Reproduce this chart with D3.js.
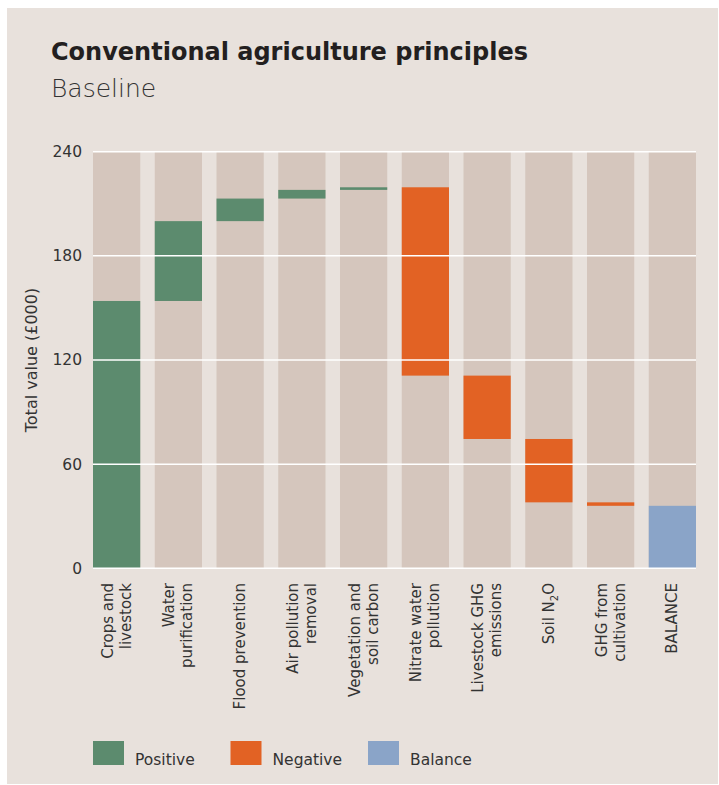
<!DOCTYPE html>
<html>
<head>
<meta charset="utf-8">
<script src="https://cdn.jsdelivr.net/npm/d3@7"></script>
<style>
  body { margin: 0; background: #fff; }
  svg { display: block; }
  text { font-family: "DejaVu Sans", sans-serif; fill: #333; }
</style>
</head>
<body>
<div id="chart"></div>
<script>
// categories (two lines each for the rotated labels)
var categories = [
  ["Crops and", "livestock"],
  ["Water", "purification"],
  ["Flood prevention"],
  ["Air pollution", "removal"],
  ["Vegetation and", "soil carbon"],
  ["Nitrate water", "pollution"],
  ["Livestock GHG", "emissions"],
  ["Soil N2O"],
  ["GHG from", "cultivation"],
  ["BALANCE"]
];
// change in value per category (£000), balance is the running total
var changes = [154, 46, 13, 5, 1.5, -108.5, -36.5, -36.5, -2];
var yTicks = [0, 60, 120, 180, 240];
var legendItems = ["Positive", "Negative", "Balance"];

var colors = { Positive: "#5c8b6e", Negative: "#e26224", Balance: "#8aa4c8" };

var width = 719, height = 785;
var svg = d3.select("#chart").append("svg")
    .attr("width", width)
    .attr("height", height);

// panel
svg.append("rect")
    .attr("x", 7).attr("y", 8)
    .attr("width", 711).attr("height", 776)
    .attr("fill", "#e8e1dc");

svg.append("text")
    .attr("x", 51).attr("y", 60)
    .style("font-size", "24px")
    .style("font-weight", "bold")
    .style("fill", "#231f20")
    .text("Conventional agriculture principles");

svg.append("text")
    .attr("x", 51).attr("y", 97)
    .style("font-size", "25px")
    .style("font-weight", "200")
    .style("fill", "#333")
    .text("Baseline");

// build waterfall segments
var data = [];
var running = 0;
changes.forEach(function(c, i) {
  var start = running;
  running += c;
  data.push({ key: i, lo: Math.min(start, running), hi: Math.max(start, running),
              type: c >= 0 ? "Positive" : "Negative" });
});
data.push({ key: changes.length, lo: 0, hi: running, type: "Balance" });

var x = d3.scaleBand()
    .domain(d3.range(categories.length))
    .range([93, 696])
    .paddingInner(0.235)
    .paddingOuter(0);

var y = d3.scaleLinear()
    .domain([0, 240])
    .range([568.3, 151.7]);

// background bars
svg.append("g").selectAll("rect")
    .data(categories)
    .enter().append("rect")
    .attr("x", function(d, i) { return x(i); })
    .attr("width", x.bandwidth())
    .attr("y", y(240))
    .attr("height", y(0) - y(240))
    .attr("fill", "#d5c6bd");

// value bars
svg.append("g").selectAll("rect")
    .data(data)
    .enter().append("rect")
    .attr("x", function(d) { return x(d.key); })
    .attr("width", x.bandwidth())
    .attr("y", function(d) { return y(d.hi); })
    .attr("height", function(d) { return y(d.lo) - y(d.hi); })
    .attr("fill", function(d) { return colors[d.type]; });

// gridlines on top
svg.append("g").selectAll("line")
    .data(yTicks)
    .enter().append("line")
    .attr("x1", 93).attr("x2", 696)
    .attr("y1", function(d) { return y(d); })
    .attr("y2", function(d) { return y(d); })
    .attr("stroke", "#fff")
    .attr("stroke-width", 1.5);

// y axis labels
var yAxis = d3.axisLeft(y).tickValues(yTicks).tickSize(0).tickPadding(11);
var gy = svg.append("g").attr("transform", "translate(93,0)").call(yAxis);
gy.select(".domain").remove();
gy.selectAll("text")
    .style("font-size", "15.5px")
    .style("font-family", "\"DejaVu Sans\", sans-serif")
    .style("fill", "#333");

svg.append("text")
    .attr("transform", "translate(37,360) rotate(-90)")
    .attr("text-anchor", "middle")
    .style("font-size", "16px")
    .text("Total value (£000)");

// x labels, rotated
var xl = svg.append("g").selectAll("g")
    .data(categories)
    .enter().append("g")
    .attr("transform", function(d, i) {
      return "translate(" + (x(i) + x.bandwidth() / 2) + ",583) rotate(-90)";
    });

xl.each(function(lines) {
  var g = d3.select(this);
  var n = lines.length;
  lines.forEach(function(line, j) {
    var off = (j - (n - 1) / 2) * 18 + 5;
    var t = g.append("text")
        .attr("x", 0).attr("y", off)
        .attr("text-anchor", "end")
        .style("font-size", "15px");
    if (line === "Soil N2O") {
      t.append("tspan").text("Soil N");
      t.append("tspan").attr("dy", 4).style("font-size", "10px").text("2");
      t.append("tspan").attr("dy", -4).text("O");
    } else {
      t.text(line);
    }
  });
});

// legend
var lg = svg.append("g").selectAll("g")
    .data(legendItems)
    .enter().append("g")
    .attr("transform", function(d, i) { return "translate(" + [93 + i * 137.5, 741] + ")"; });
lg.append("rect")
    .attr("width", 31).attr("height", 24)
    .attr("fill", function(d) { return colors[d]; });
lg.append("text")
    .attr("x", 42).attr("y", 24)
    .style("font-size", "15.5px")
    .text(function(d) { return d; });
</script>
</body>
</html>
